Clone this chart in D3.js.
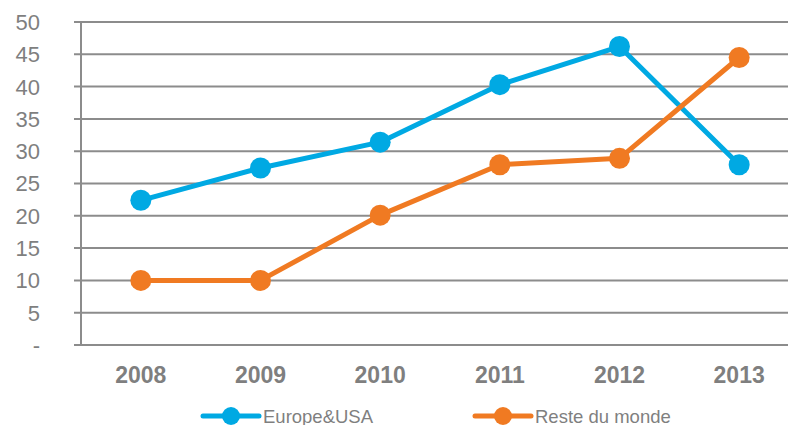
<!DOCTYPE html>
<html><head><meta charset="utf-8">
<script src="https://cdn.jsdelivr.net/npm/d3@7"></script>
<style>html,body{margin:0;padding:0;background:#fff;overflow:hidden}</style>
</head><body>
<svg id="c" width="788" height="425"></svg>
<script>
const years = ["2008","2009","2010","2011","2012","2013"];
const europeUSA = [22.4, 27.4, 31.4, 40.3, 46.2, 27.9];
const resteMonde = [10.0, 10.0, 20.1, 27.9, 28.9, 44.5];
const yTicks = [0,5,10,15,20,25,30,35,40,45,50];
const seriesNames = ["Europe&USA", "Reste du monde"];
const colors = ["#00A9E3", "#F07A22"];

(function(){
const svg = d3.select("#c");
const pLeft = 81, pRight = 799, pTop = 22, pBottom = 345;
const x = d3.scalePoint().domain(years).range([pLeft, pRight]).padding(0.5);
const y = d3.scaleLinear().domain([0, 50]).range([pBottom, pTop]);
const grey = "#8c8c8c", txt = "#7f7f7f";

// gridlines
svg.append("g").selectAll("line").data(yTicks).join("line")
  .attr("x1", pLeft - 7).attr("x2", 788)
  .attr("y1", d => y(d)).attr("y2", d => y(d))
  .attr("stroke", grey).attr("stroke-width", 2);
svg.append("line").attr("x1", pLeft).attr("x2", pLeft).attr("y1", pTop).attr("y2", pBottom)
  .attr("stroke", grey).attr("stroke-width", 2);

// y labels
svg.append("g").selectAll("text").data(yTicks).join("text")
  .attr("x", 40).attr("y", d => y(d)).attr("dy", "0.36em")
  .attr("text-anchor", "end")
  .attr("font-family", "Liberation Sans, Arial, sans-serif").attr("font-size", 22)
  .attr("fill", txt).text(d => d === 0 ? "-" : d);

// x labels
svg.append("g").selectAll("text").data(years).join("text")
  .attr("x", d => x(d)).attr("y", 383)
  .attr("text-anchor", "middle")
  .attr("font-family", "Liberation Sans, Arial, sans-serif").attr("font-size", 23)
  .attr("font-weight", "bold").attr("fill", txt).text(d => d);

const data = [europeUSA, resteMonde];
const line = d3.line().x((d, i) => x(years[i])).y(d => y(d));
data.forEach((vals, k) => {
  const g = svg.append("g");
  g.append("path").datum(vals).attr("d", line).attr("fill", "none")
    .attr("stroke", colors[k]).attr("stroke-width", 5).attr("stroke-linejoin", "round");
  g.selectAll("circle").data(vals).join("circle")
    .attr("cx", (d, i) => x(years[i])).attr("cy", d => y(d)).attr("r", 10.5)
    .attr("fill", colors[k]);
});

// legend
const legX = [203, 475];
seriesNames.forEach((name, k) => {
  const g = svg.append("g").attr("transform", `translate(${legX[k]},416)`);
  g.append("line").attr("x1", 0).attr("x2", 56).attr("stroke", colors[k]).attr("stroke-width", 5).attr("stroke-linecap", "round");
  g.append("circle").attr("cx", 28).attr("r", 9).attr("fill", colors[k]);
  g.append("text").attr("x", 60).attr("y", 7).attr("font-family", "Liberation Sans, Arial, sans-serif")
    .attr("font-size", 18.5).attr("fill", txt).text(name);
});
})();
</script>
</body></html>
